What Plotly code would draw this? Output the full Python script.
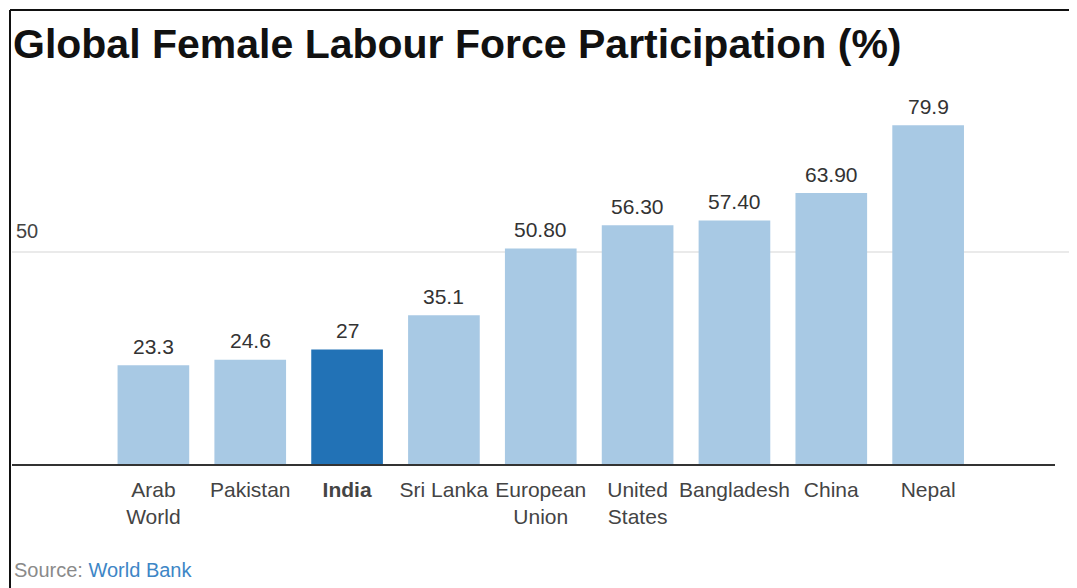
import plotly.graph_objects as go

categories = ["Arab World", "Pakistan", "India", "Sri Lanka", "European Union",
              "United States", "Bangladesh", "China", "Nepal"]
values = [23.3, 24.6, 27, 35.1, 50.8, 56.3, 57.4, 63.9, 79.9]
value_labels = ["23.3", "24.6", "27", "35.1", "50.80", "56.30", "57.40", "63.90", "79.9"]
tick_labels = ["Arab<br>World", "Pakistan", "<b>India</b>", "Sri Lanka", "European<br>Union",
               "United<br>States", "Bangladesh", "China", "Nepal"]
highlight = "India"
ref_line = 50

OFF = 8  # page body margin
W, H = 1077 - OFF, 588 - OFF
L, R, T, B = 4, 22, 82, 124
pw, ph = W - L - R, H - T - B

colors = ["#2272b6" if c == highlight else "#a8c9e4" for c in categories]
xs = list(range(len(categories)))

fig = go.Figure(go.Bar(
    x=xs, y=values,
    marker=dict(color=colors, line=dict(width=0)),
    width=0.74, hoverinfo="skip",
))


def px_x(p):
    return (p - OFF - L) / pw


def px_y(p):
    return (H - B - (p - OFF)) / ph


annotations = [
    dict(x=x, y=v, text=t, xref="x", yref="y", showarrow=False,
         yanchor="middle", yshift=19,
         font=dict(size=21, color="#333333", family="Liberation Sans"))
    for x, v, t in zip(xs, values, value_labels)
]
annotations += [
    dict(text=str(ref_line), xref="paper", yref="y", x=px_x(14), y=ref_line,
         xanchor="left", yanchor="middle", yshift=21, showarrow=False,
         font=dict(size=20, color="#444444", family="Liberation Sans")),
    dict(text="<b>Global Female Labour Force Participation (%)</b>",
         xref="paper", yref="paper", x=px_x(11), y=px_y(44),
         xanchor="left", yanchor="middle", showarrow=False,
         font=dict(size=41, color="#111111", family="Liberation Sans")),
    dict(text="Source: <span style='color:#3d86c6'>World Bank</span>",
         xref="paper", yref="paper", x=px_x(12), y=px_y(570),
         xanchor="left", yanchor="middle", showarrow=False,
         font=dict(size=20, color="#8a8a8a", family="Liberation Sans")),
]

fig.update_layout(
    width=W, height=H,
    margin=dict(l=L, r=R, t=T, b=B),
    paper_bgcolor="white", plot_bgcolor="white",
    showlegend=False,
    font=dict(family="Liberation Sans", color="#444444"),
    xaxis=dict(
        range=[-1.46, 9.31], tickmode="array",
        tickvals=xs, ticktext=tick_labels,
        tickfont=dict(size=21, color="#444444"),
        ticklabelstandoff=6,
        showline=True, linecolor="#333333", linewidth=1.5,
        showgrid=False, ticks="", zeroline=False,
    ),
    yaxis=dict(
        range=[0, 88.2], showticklabels=False, showgrid=False,
        zeroline=False, showline=False, ticks="",
    ),
    annotations=annotations,
    shapes=[
        dict(type="line", xref="paper", yref="y",
             x0=px_x(12), x1=px_x(1072), y0=ref_line, y1=ref_line,
             line=dict(color="#e3e3e3", width=1.5), layer="below"),
        dict(type="line", xref="paper", yref="paper",
             x0=px_x(10), x1=px_x(1080), y0=px_y(10), y1=px_y(10),
             line=dict(color="#111111", width=2)),
        dict(type="line", xref="paper", yref="paper",
             x0=px_x(10), x1=px_x(10), y0=px_y(10), y1=px_y(595),
             line=dict(color="#111111", width=2)),
    ],
)

fig.write_html("out.html")
